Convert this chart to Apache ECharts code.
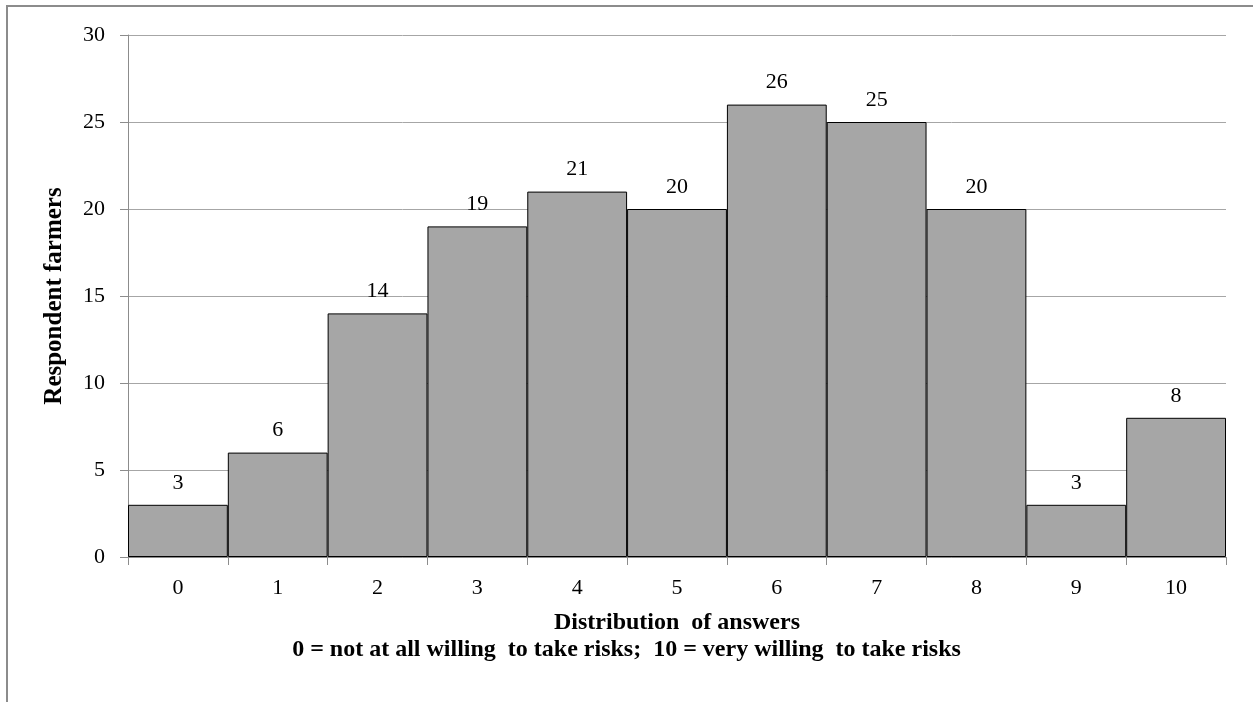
<!DOCTYPE html>
<html>
<head>
<meta charset="utf-8">
<script src="https://cdn.jsdelivr.net/npm/echarts@6/dist/echarts.min.js"></script>
<style>
html, body { margin: 0; padding: 0; background: #fff; }
#main { width: 1253px; height: 702px; }
</style>
</head>
<body>
<div id="main"></div>
<script>
var myChart = echarts.init(document.getElementById('main'));

// answer scale 0..10 and number of farmers
var answers = ['0', '1', '2', '3', '4', '5', '6', '7', '8', '9', '10'];
var farmers = [3, 6, 14, 19, 21, 20, 26, 25, 20, 3, 8];
var yTicks = [0, 5, 10, 15, 20, 25, 30];

var serif = '"Liberation Serif", "Times New Roman", serif';

var option = {
    animation: false,
    backgroundColor: '#fff',
    graphic: [
        {
            // outer frame (only top and left visible in the picture)
            type: 'rect',
            shape: { x: 7, y: 6, width: 1300, height: 800 },
            style: { fill: 'none', stroke: '#8c8c8c', lineWidth: 2 },
            silent: true
        },
        {
            type: 'text',
            left: 'center',
            top: 638,
            style: {
                text: '0 = not at all willing  to take risks;  10 = very willing  to take risks',
                font: 'bold 24px ' + serif,
                fill: '#000'
            }
        }
    ],
    grid: {
        left: 128,
        right: 27,
        top: 35,
        bottom: 145
    },
    xAxis: {
        type: 'category',
        data: answers,
        name: 'Distribution  of answers',
        nameLocation: 'middle',
        nameGap: 54,
        nameTextStyle: { fontFamily: serif, fontSize: 24, fontWeight: 'bold', color: '#000' },
        axisLine: { lineStyle: { color: '#8c8c8c', width: 1 } },
        axisTick: { show: true, length: 8, lineStyle: { color: '#8c8c8c' } },
        axisLabel: { fontFamily: serif, fontSize: 22, color: '#000', margin: 20 }
    },
    yAxis: {
        type: 'value',
        min: 0,
        max: 30,
        interval: 5,
        name: 'Respondent farmers',
        nameLocation: 'middle',
        nameGap: 61,
        nameTextStyle: { fontFamily: serif, fontSize: 25, fontWeight: 'bold', color: '#000' },
        axisLine: { show: true, lineStyle: { color: '#8c8c8c', width: 1 } },
        axisTick: { show: true, length: 8, lineStyle: { color: '#8c8c8c' } },
        axisLabel: {
            fontFamily: serif, fontSize: 22, color: '#000', margin: 23,
            formatter: function (v) { return yTicks.indexOf(v) >= 0 ? String(v) : ''; }
        },
        splitLine: { lineStyle: { color: '#a6a6a6', width: 1 } }
    },
    series: [
        {
            type: 'bar',
            data: farmers,
            barCategoryGap: '0%',
            itemStyle: { color: '#a6a6a6', borderColor: '#000', borderWidth: 1 },
            label: {
                show: true,
                position: 'top',
                distance: 11,
                fontFamily: serif,
                fontSize: 22,
                color: '#000'
            }
        }
    ]
};

myChart.setOption(option);
</script>
</body>
</html>
